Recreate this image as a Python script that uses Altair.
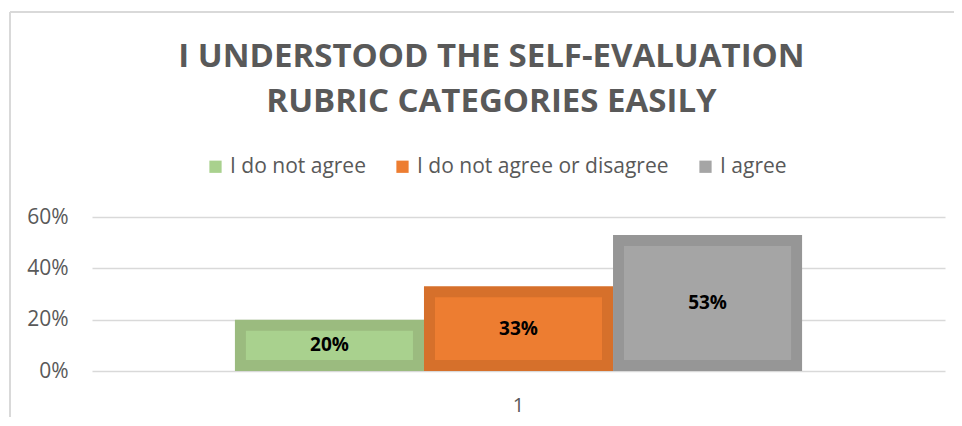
import altair as alt
import pandas as pd

categories = ["1"]
series = ["I do not agree", "I do not agree or disagree", "I agree"]
values = [0.20, 0.33, 0.53]
fill_colors = ["#A9D18E", "#ED7D31", "#A5A5A5"]
stroke_colors = ["#9BBB7F", "#D6702B", "#969696"]
title_lines = ["I UNDERSTOOD THE SELF-EVALUATION", "RUBRIC CATEGORIES EASILY"]

df = pd.DataFrame({
    "cat": [categories[0]] * len(series),
    "series": series,
    "value": values,
})

FONT = "Open Sans"
GREY = "#595959"
PI = 11 / 189

x_enc = alt.X("cat:N", title=None,
              scale=alt.Scale(paddingInner=0, paddingOuter=0.252),
              axis=alt.Axis(labelAngle=0, ticks=False, domain=False, grid=False,
                            labelPadding=24, labelFontSize=20, labelColor=GREY,
                            labelFont=FONT))
xo_enc = alt.XOffset("series:N", sort=series,
                     scale=alt.Scale(paddingInner=PI, paddingOuter=PI / 2))
y_enc = alt.Y("value:Q", title=None,
              scale=alt.Scale(domain=[0, 0.6]),
              axis=alt.Axis(format=".0%", values=[0, 0.2, 0.4, 0.6], ticks=False,
                            domain=False, gridColor="#D9D9D9", gridWidth=1.5,
                            labelPadding=24, labelFontSize=21, labelColor=GREY,
                            labelFont=FONT))

bars = alt.Chart(df).mark_bar(
    strokeWidth=11, yOffset=5.5, y2Offset=-5.5,
).encode(
    x=x_enc,
    xOffset=xo_enc,
    y=y_enc,
    y2=alt.datum(0),
    fill=alt.Fill("series:N", sort=series,
                  scale=alt.Scale(domain=series, range=fill_colors),
                  legend=alt.Legend(title=None, orient="none", legendX=113, legendY=-61,
                                    direction="horizontal", symbolType="square",
                                    symbolSize=150, symbolStrokeWidth=0,
                                    labelFontSize=21, labelFont=FONT, labelColor=GREY,
                                    labelOffset=4, columnPadding=26, labelLimit=400)),
    stroke=alt.Stroke("series:N", sort=series,
                      scale=alt.Scale(domain=series, range=stroke_colors), legend=None),
)

labels = alt.Chart(df).transform_calculate(
    mid="datum.value / 2"
).mark_text(fontSize=19, fontWeight="bold", font=FONT, color="#000000",
            baseline="middle").encode(
    x=alt.X("cat:N", title=None),
    xOffset=alt.XOffset("series:N", sort=series),
    y=alt.Y("mid:Q"),
    text=alt.Text("value:Q", format=".0%"),
)

frame_left = alt.Chart(df).mark_rule(color="#D9D9D9", strokeWidth=1.5).encode(
    x=alt.value(-82), y=alt.value(-205), y2=alt.value(200))
frame_top = alt.Chart(df).mark_rule(color="#D9D9D9", strokeWidth=1.5).encode(
    x=alt.value(-82), x2=alt.value(900), y=alt.value(-205))

chart = alt.layer(frame_left, frame_top, bars, labels).properties(
    width=853, height=154,
    title=alt.Title(title_lines, fontSize=33, font=FONT, fontWeight="bold", color=GREY,
                    anchor="middle", dx=-27, offset=-108, lineHeight=45),
    autosize=alt.AutoSizeParams(type="none"),
    padding={"left": 84, "top": 209, "right": 9, "bottom": 47},
).configure_view(stroke=None)

chart.save("out.html", embed_options={"renderer": "svg", "actions": False})
